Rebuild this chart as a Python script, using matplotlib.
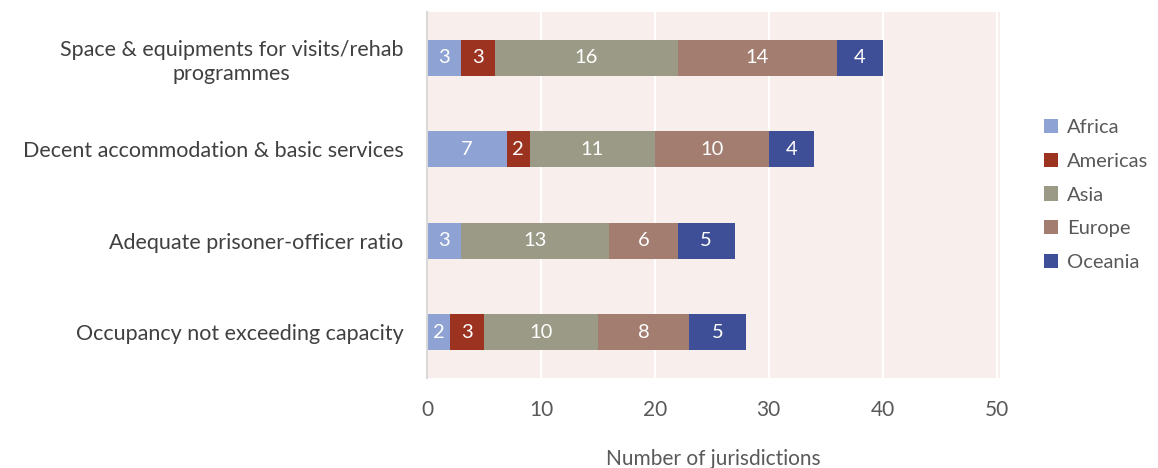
import matplotlib
matplotlib.use("Agg")
import matplotlib.pyplot as plt
import numpy as np

categories = ["Space & equipments for visits/rehab\nprogrammes",
              "Decent accommodation & basic services",
              "Adequate prisoner-officer ratio",
              "Occupancy not exceeding capacity"]
regions = ["Africa", "Americas", "Asia", "Europe", "Oceania"]
africa = [3, 7, 3, 2]
americas = [3, 2, 0, 3]
asia = [16, 11, 13, 10]
europe = [14, 10, 6, 8]
oceania = [4, 4, 5, 5]
series = [africa, americas, asia, europe, oceania]
colors = ["#8FA2D4", "#9C3320", "#9A9A86", "#A37D6F", "#3F4F97"]
xticks = [0, 10, 20, 30, 40, 50]

plt.rcParams['font.family'] = ['Lato', 'DejaVu Sans']

fig = plt.figure(figsize=(11.58, 4.68), dpi=100)
ax = fig.add_axes([427/1158, 1-378/468, 573/1158, 366/468])
ax.set_facecolor("#F8EEEC")

y = np.arange(len(categories))
left = np.zeros(len(categories))
for name, vals, c in zip(regions, series, colors):
    vals = np.array(vals, dtype=float)
    bars = ax.barh(y, vals, left=left, height=0.39, color=c, label=name, zorder=3)
    for b, v in zip(bars, vals):
        if v > 0:
            ax.text(b.get_x() + b.get_width()/2, b.get_y() + b.get_height()/2, f"{int(v)}",
                    ha="center", va="center", color="white", fontsize=14.5, zorder=4)
    left += vals

ax.set_ylim(len(categories) - 0.5, -0.5)
ax.set_xlim(0, 50.3)
ax.set_xticks(xticks)
ax.set_xticklabels([str(t) for t in xticks])
ax.set_yticks(y)
ax.set_yticklabels(categories, fontsize=15.5, color="#404040", linespacing=1.25)
for lab in ax.get_yticklabels():
    lab.set_multialignment("center")
ax.tick_params(axis="x", length=0, pad=16, labelsize=15, labelcolor="#595959")
ax.tick_params(axis="y", length=0, pad=17)
ax.grid(axis="x", color="white", linewidth=1.5, zorder=1)
for s in ["top", "right", "bottom"]:
    ax.spines[s].set_visible(False)
ax.spines["left"].set_color("#D9D9D9")
ax.spines["left"].set_linewidth(1.5)
ax.spines["left"].set_zorder(5)
ax.set_xlabel("Number of jurisdictions", fontsize=15, color="#595959", labelpad=21)

leg = ax.legend(loc="center left", bbox_to_anchor=(1.045, 0.5), frameon=False,
                fontsize=14.5, handlelength=0.7, handleheight=0.7, handletextpad=0.45,
                labelspacing=0.82, labelcolor="#595959")

fig.savefig("out.png", dpi=100)
